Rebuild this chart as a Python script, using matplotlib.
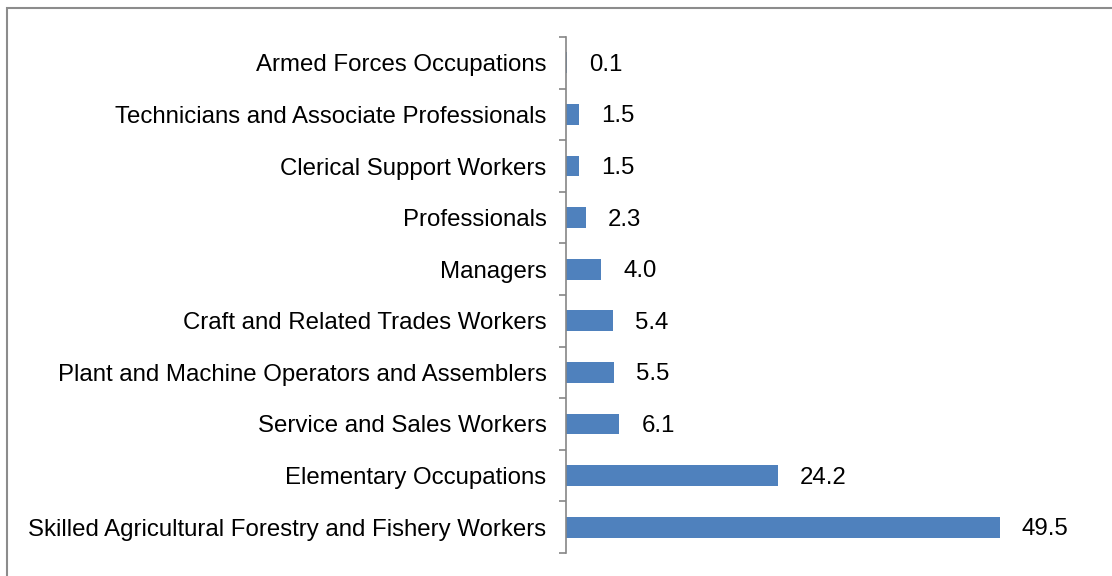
import matplotlib
matplotlib.use("Agg")
import matplotlib.pyplot as plt
import numpy as np
from matplotlib.patches import Rectangle

categories = [
    "Skilled Agricultural Forestry and Fishery Workers",
    "Elementary Occupations",
    "Service and Sales Workers",
    "Plant and Machine Operators and Assemblers",
    "Craft and Related Trades Workers",
    "Managers",
    "Professionals",
    "Clerical Support Workers",
    "Technicians and Associate Professionals",
    "Armed Forces Occupations",
]
values = [49.5, 24.2, 6.1, 5.5, 5.4, 4.0, 2.3, 1.5, 1.5, 0.1]

plt.rcParams['font.family'] = ['Liberation Sans', 'DejaVu Sans']

W, H = 1112, 576
fig = plt.figure(figsize=(W / 100, H / 100), dpi=100)
ax = fig.add_axes([566 / W, 1 - 553 / H, (1092 - 566) / W, (553 - 37) / H])

y = np.arange(len(categories))
ax.barh(y, values, height=0.4, color='#4F81BD', linewidth=0)
ax.set_xlim(0, 60)
ax.set_ylim(-0.5, len(categories) - 0.5)

for yi, v in zip(y, values):
    ax.annotate(f"{v:.1f}", (v, yi), xytext=(22, -2), textcoords='offset pixels',
                ha='left', va='center', fontsize=17.3, color='black')

ax.set_yticks(y)
ax.set_yticklabels(categories, fontsize=17.3)
ax.tick_params(axis='y', which='major', length=0, pad=14)
ax.set_yticks(np.arange(-0.5, len(categories), 1.0), minor=True)
ax.tick_params(axis='y', which='minor', length=5, width=1.2, color='#868686', direction='out')
ax.set_xticks([])
for s in ['top', 'right', 'bottom']:
    ax.spines[s].set_visible(False)
ax.spines['left'].set_color('#868686')
ax.spines['left'].set_linewidth(1.2)

frame = Rectangle((7 / W, -0.1), 1.2, (576 - 7.5) / H + 0.1, transform=fig.transFigure,
                  fill=False, edgecolor='#8C8C8C', linewidth=1.5)
fig.patches.append(frame)

fig.savefig("out.png", dpi=100)
